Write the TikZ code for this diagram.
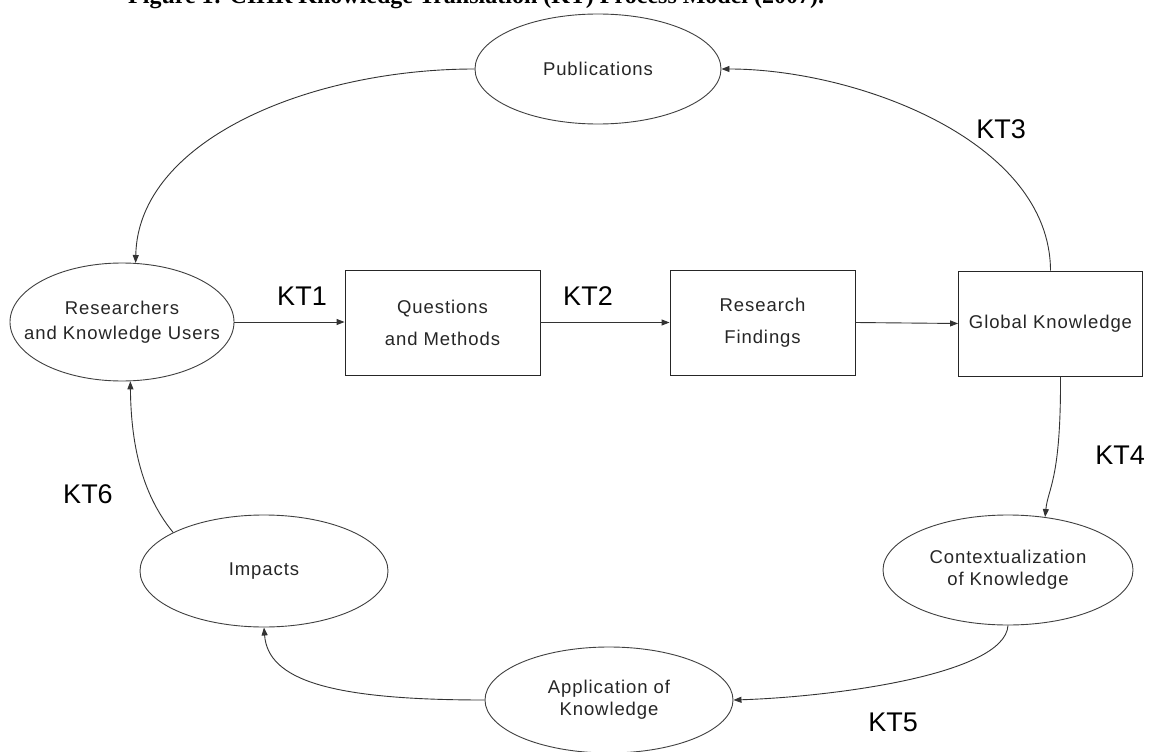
\documentclass[tikz,border=0pt]{standalone}
\usepackage{fontspec}
\setmainfont{Liberation Sans}
\newfontfamily\nodefont[LetterSpace=5]{Liberation Sans}
\newfontfamily\capfont{Liberation Serif}
\usetikzlibrary{shapes.geometric,arrows.meta,calc}

\tikzset{
  link/.style={draw=black!80, line width=0.9pt},
  arr/.style={link, -{Triangle[length=8pt,width=6pt]}},
  oval/.style={ellipse, draw=black!75, line width=0.9pt, inner sep=0pt,
    align=center, text=black!85,
    font=\nodefont\fontsize{18.5}{22}\selectfont},
  stepbox/.style={rectangle, draw=black!85, line width=0.9pt, inner sep=0pt,
    align=center, text=black!85,
    font=\nodefont\fontsize{18.5}{32}\selectfont},
  ktlabel/.style={font=\fontsize{27}{30}\selectfont, text=black, inner sep=0pt},
}

\begin{document}
\begin{tikzpicture}[x=1pt,y=-1pt]
  \useasboundingbox (0,0) rectangle (1149,752);
  \fill[white] (0,0) rectangle (1149,752);

  % caption line, running off the top edge
  \node[anchor=base west, inner sep=0pt, font=\capfont\bfseries\fontsize{24}{26}\selectfont]
    (caption) at (128,4) {Figure 1: CIHR Knowledge Translation (KT) Process Model (2007).};

  % nodes
  \node[oval, minimum width=246pt, minimum height=110pt] (pub) at (598,69) {Publications};
  \node[oval, inner xsep=-20pt, minimum width=224pt, minimum height=118pt] (res) at (122,322)
    {Researchers\\[3pt]and Knowledge Users};
  \node[stepbox, minimum width=195pt, minimum height=105pt] (qm) at (442.5,322.5)
    {Questions\\and Methods};
  \node[stepbox, minimum width=185pt, minimum height=105pt] (rf) at (762.5,322.5)
    {Research\\Findings};
  \node[stepbox, minimum width=184pt, minimum height=105pt] (gk) at (1050.5,323.5)
    {Global Knowledge};
  \node[oval, minimum width=250pt, minimum height=110pt] (ctx) at (1008,570)
    {Contextualization\\of Knowledge};
  \node[oval, minimum width=248pt, minimum height=106pt] (app) at (609,700)
    {Application of\\Knowledge};
  \node[oval, minimum width=248pt, minimum height=112pt] (imp) at (264,571) {Impacts};

  % straight steps
  \draw[arr] (res.east) -- (res.east -| qm.west);
  \draw[arr] (qm.east) -- (rf.west);
  \draw[arr] (rf.east) -- (gk.west);

  % curved steps round the cycle
  \draw[arr] (gk.north) .. controls (1050,140) and (855,69) .. (pub.east);
  \draw[arr] (pub.west) .. controls (310,69) and (138,140) .. (res.77);
  \draw[arr] ($(gk.south)+(10,0)$) .. controls (1061,480) and (1048,488) .. (ctx.55);
  \draw[arr] (ctx.south) .. controls (1005,675) and (830,697) .. (app.east);
  \draw[arr] (app.west) .. controls (330,700) and (268,680) .. (imp.south);
  \draw[arr] (imp.157) .. controls (140,492) and (131,440) .. (res.-82);

  % step labels
  \node[ktlabel] (kt1) at (302,296) {KT1};
  \node[ktlabel] (kt2) at (588,296) {KT2};
  \node[ktlabel] (kt3) at (1001,129) {KT3};
  \node[ktlabel] (kt4) at (1120,455) {KT4};
  \node[ktlabel] (kt5) at (893,722) {KT5};
  \node[ktlabel] (kt6) at (88,494) {KT6};
\end{tikzpicture}
\end{document}
